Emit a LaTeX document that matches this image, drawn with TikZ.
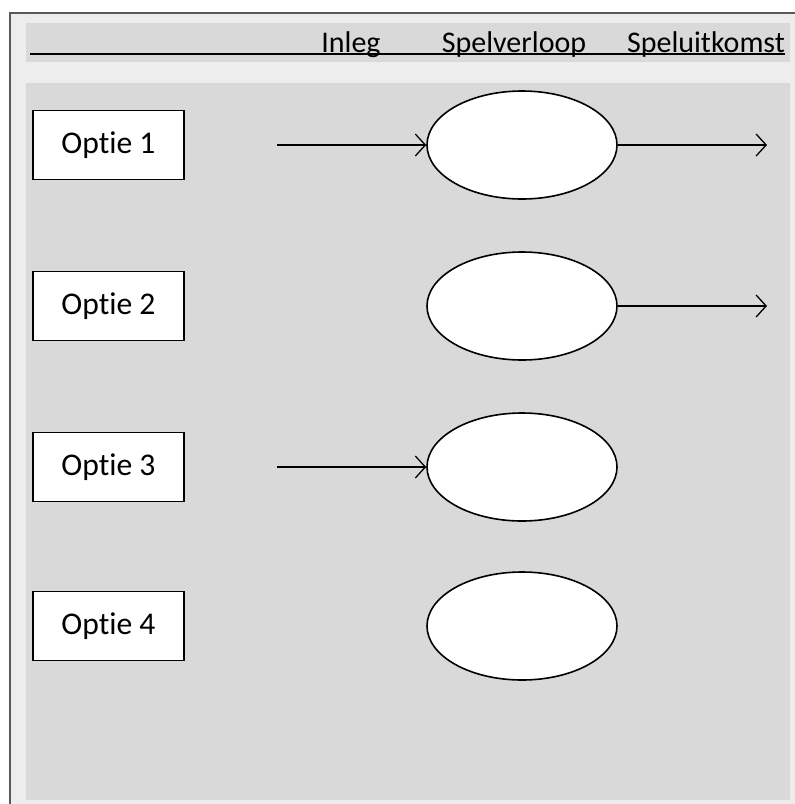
\documentclass[tikz,border=0pt]{standalone}
\usepackage{fontspec}
\setmainfont{Carlito}[Ligatures=NoCommon]
\usepackage{xcolor}
\usepackage{tikz}
\usetikzlibrary{shapes.geometric, arrows.meta, positioning}

\definecolor{panelgray}{HTML}{EDEDED}
\definecolor{bandgray}{HTML}{D9D9D9}
\definecolor{framegray}{HTML}{595959}

\begin{document}
\begin{tikzpicture}[
  x=0.5pt, y=-0.5pt,
  node distance=45.5pt,
  optbox/.style={rectangle, draw=black, fill=white, line width=0.8pt,
              text centered, minimum height=34.5pt, minimum width=75.5pt,
              inner sep=0pt, font=\fontsize{15.8}{19}\selectfont},
  game/.style={ellipse, draw=black, fill=white, line width=0.8pt,
              minimum width=95pt, minimum height=54pt, inner sep=0pt},
  head/.style={anchor=base, inner sep=0pt, font=\fontsize{15}{18}\selectfont},
  arrow/.style={-{Straight Barb[length=5pt, width=11pt]}, line width=0.65pt}
]
\useasboundingbox (0,0) rectangle (795,804);
\fill[white] (0,0) rectangle (795,804);
% panels
\filldraw[fill=panelgray, draw=framegray, line width=1pt] (9.5,12.7) rectangle (820,830);
\fill[bandgray] (26,23) rectangle (790,62);
\fill[bandgray] (26,83) rectangle (790,800);

% header
\node[head] (inleg)    at (351,52) {Inleg};
\node[head] (verloop)  at (514,52) {Spelverloop};
\node[head] (uitkomst) at (706,52) {Speluitkomst};
\coordinate (lineL) at (30,54.3);
\coordinate (lineR) at (785,54.3);
\draw[line width=0.9pt] (lineL) -- (lineR);

% options
\node[optbox] (opt1) at (108.5,145) {Optie 1};
\node[optbox] (opt2) at (108.5,306) {Optie 2};
\node[optbox] (opt3) at (108.5,467) {Optie 3};
\node[optbox] (opt4) at (108.5,626) {Optie 4};

% game outcomes
\node[game, right=206.75pt of opt1.center, anchor=center] (game1) {};
\node[game, right=206.75pt of opt2.center, anchor=center] (game2) {};
\node[game, right=206.75pt of opt3.center, anchor=center] (game3) {};
\node[game, right=206.75pt of opt4.center, anchor=center] (game4) {};

\coordinate (in1)  at (277,145);
\coordinate (out1) at (767,145);
\coordinate (in3)  at (game3.west -| in1);
\coordinate (out2) at (game2.east -| out1);

\draw[arrow] (in1)         -- (game1.west);
\draw[arrow] (game1.east)  -- (out1);
\draw[arrow] (game2.east)  -- (out2);
\draw[arrow] (in3)         -- (game3.west);
\end{tikzpicture}
\end{document}
